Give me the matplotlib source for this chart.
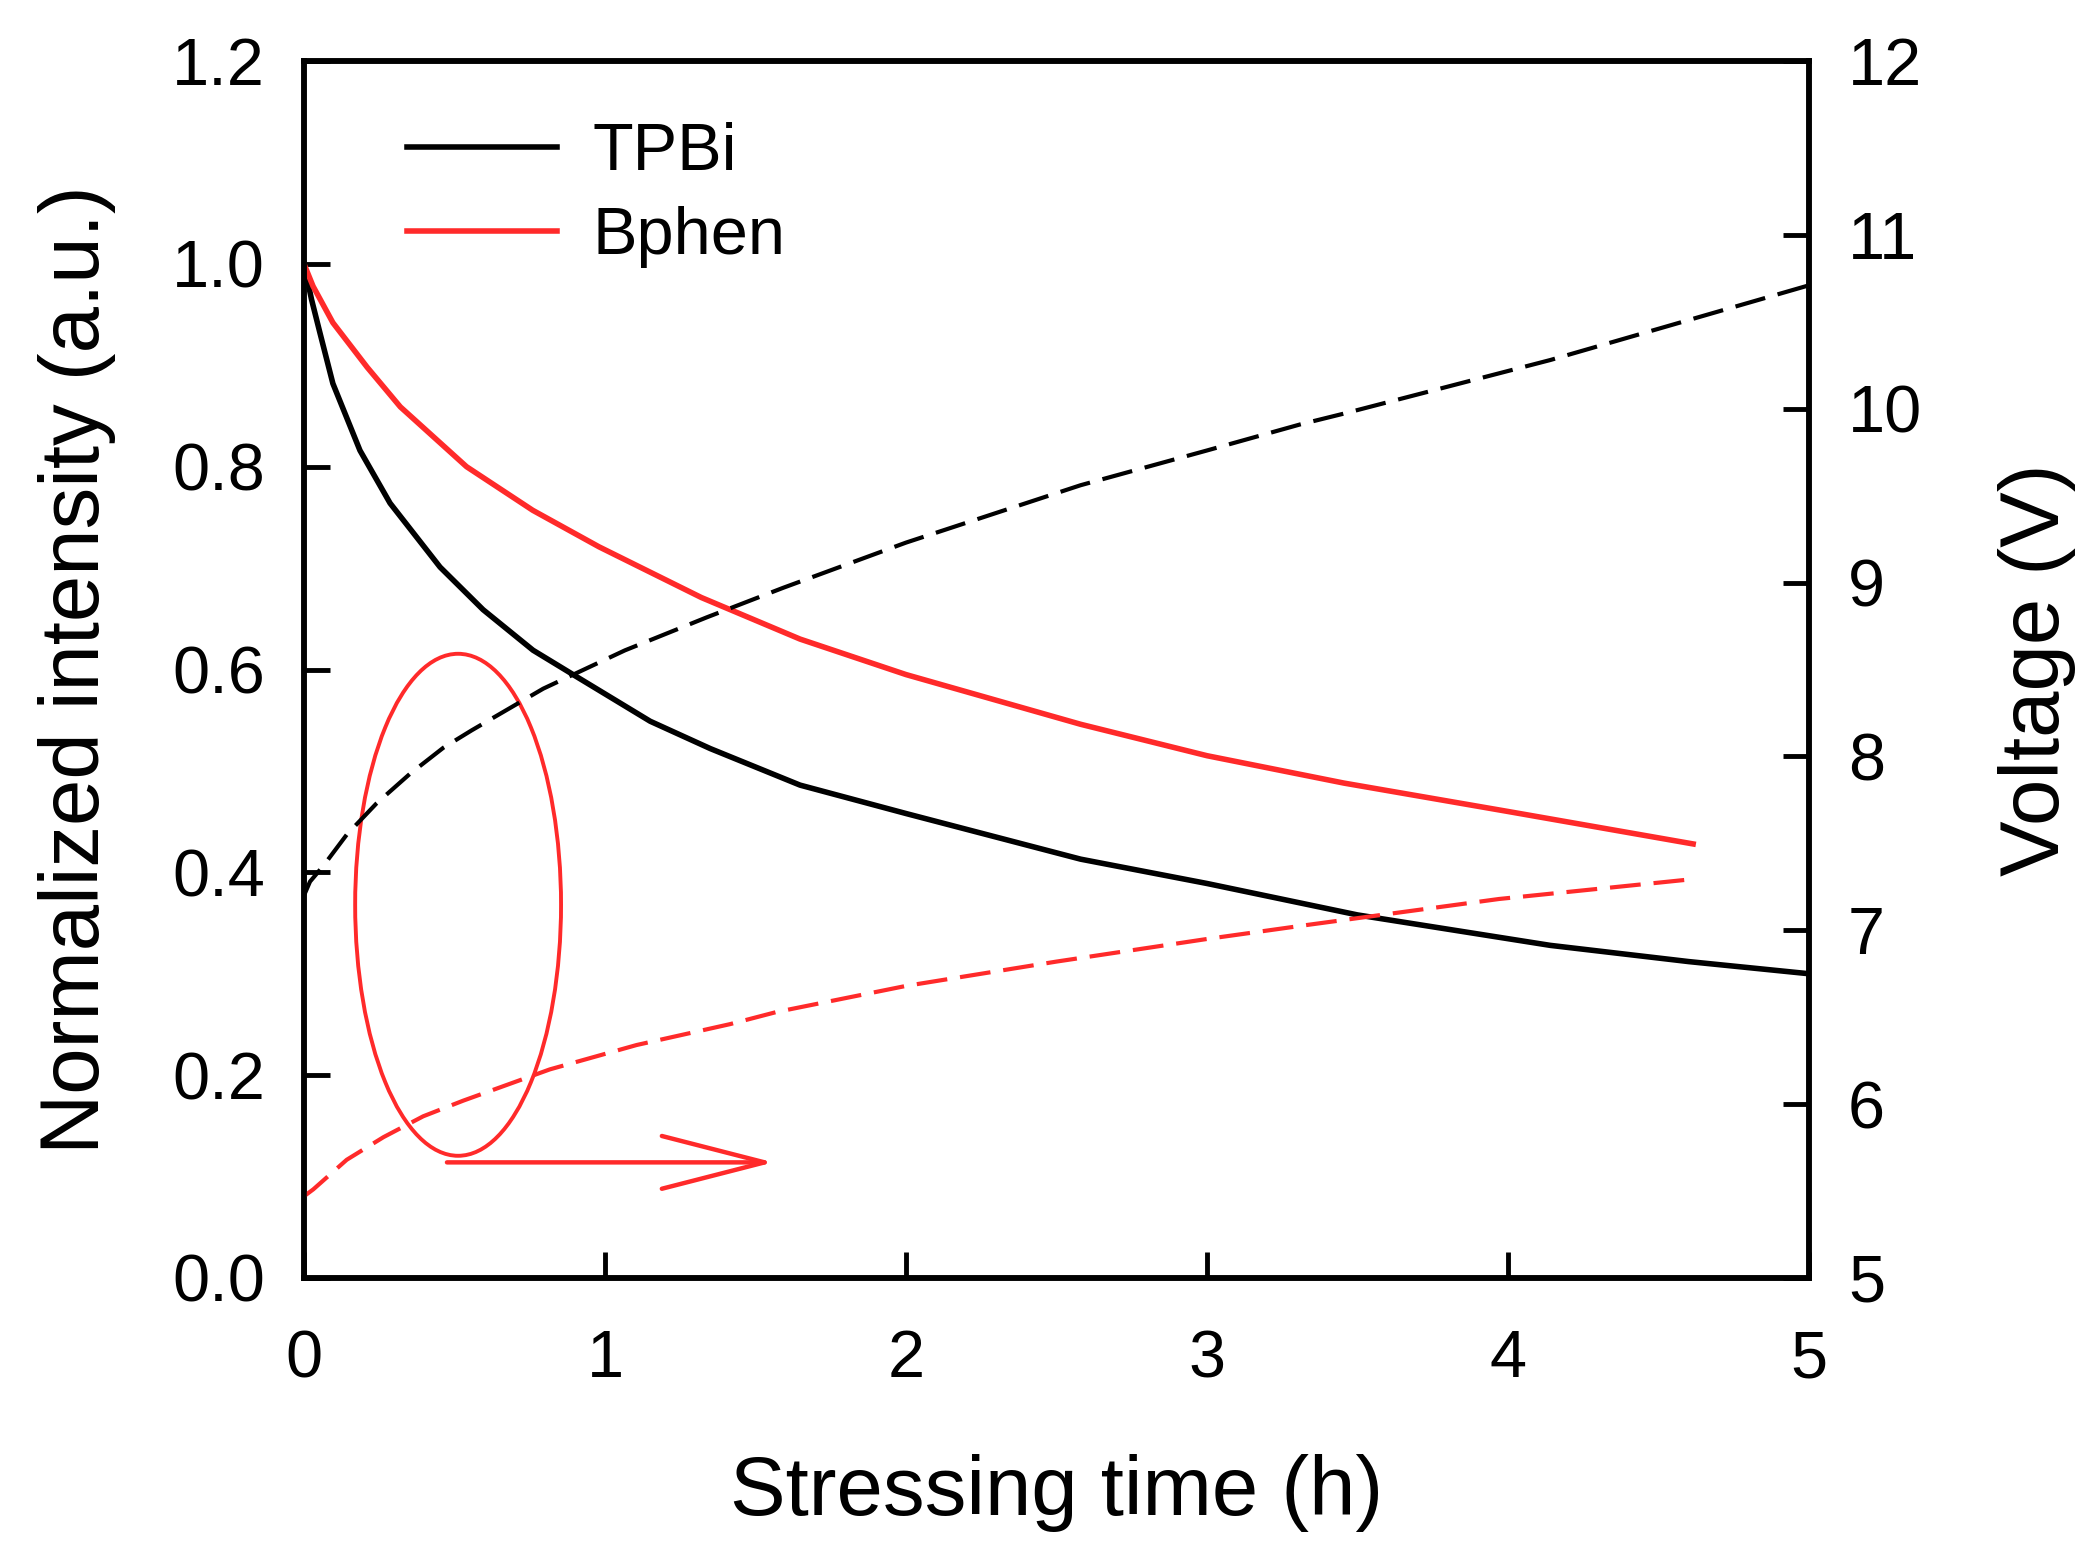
import matplotlib
matplotlib.use("Agg")
import matplotlib.pyplot as plt
from matplotlib.patches import Ellipse

plt.rcParams['font.family'] = ['Liberation Sans', 'DejaVu Sans']

# normalized EL intensity (left axis)
tpbi_t = [0, 0.025, 0.053, 0.096, 0.186, 0.286, 0.452, 0.595, 0.761, 0.894, 1.15, 1.35,
          1.648, 2.0, 2.58, 3.0, 3.5, 4.14, 4.6, 5.0]
tpbi_int = [1.0, 0.965, 0.932, 0.882, 0.816, 0.764, 0.701, 0.659, 0.619, 0.595, 0.549, 0.522,
            0.486, 0.458, 0.413, 0.389, 0.358, 0.328, 0.312, 0.30]

bphen_t = [0, 0.03, 0.096, 0.21, 0.32, 0.54, 0.76, 0.98, 1.32, 1.648, 2.0, 2.58,
           3.0, 3.455, 4.0, 4.615]
bphen_int = [1.0, 0.978, 0.942, 0.898, 0.859, 0.80, 0.757, 0.721, 0.671, 0.630, 0.595, 0.546,
             0.515, 0.488, 0.46, 0.428]

# driving voltage (right axis)
tpbi_vt = [0, 0.02, 0.064, 0.142, 0.241, 0.352, 0.463, 0.557, 0.795, 1.066, 1.338,
           1.592, 2.0, 2.58, 3.0, 3.31, 3.45, 4.14, 4.5, 5.0]
tpbi_v = [7.2, 7.28, 7.37, 7.55, 7.73, 7.90, 8.05, 8.15, 8.39, 8.61, 8.80,
          8.97, 9.23, 9.56, 9.76, 9.91, 9.97, 10.28, 10.46, 10.71]

bphen_vt = [0, 0.031, 0.142, 0.264, 0.396, 0.529, 0.673, 0.817, 0.961, 1.105, 1.26,
            1.415, 1.57, 2.0, 2.5, 3.0, 3.33, 3.97, 4.59]
bphen_v = [5.47, 5.51, 5.68, 5.81, 5.93, 6.02, 6.11, 6.20, 6.27, 6.34, 6.40,
           6.46, 6.53, 6.68, 6.82, 6.95, 7.03, 7.18, 7.29]

red = '#ff2a2a'

fig = plt.figure(figsize=(20.95, 15.57), dpi=100)
ax = fig.add_axes([0.1451, 0.1792, 0.7184, 0.7816])
ax2 = ax.twinx()

l1, = ax.plot(tpbi_t, tpbi_int, color='black', lw=4.0, label='TPBi')
l2, = ax.plot(bphen_t, bphen_int, color=red, lw=4.0, label='Bphen')
ax2.plot(tpbi_vt, tpbi_v, color='black', lw=3.0, dashes=(7.4, 3.1))
ax2.plot(bphen_vt, bphen_v, color=red, lw=3.0, dashes=(7.4, 3.1))

ax.set_xlim(0, 5)
ax.set_ylim(0, 1.2)
ax2.set_ylim(5, 12)
ax.set_xticks([0, 1, 2, 3, 4, 5])
ax.set_yticks([0, 0.2, 0.4, 0.6, 0.8, 1.0, 1.2])
ax.set_yticklabels(['0.0', '0.2', '0.4', '0.6', '0.8', '1.0', '1.2'])
ax2.set_yticks([5, 6, 7, 8, 9, 10, 11, 12])

for a in (ax, ax2):
    for s in a.spines.values():
        s.set_linewidth(4)
ax.tick_params(axis='both', direction='in', length=18.7, width=3.5, labelsize=48)
ax.tick_params(axis='x', pad=37)
ax.tick_params(axis='y', pad=28)
ax2.tick_params(axis='y', direction='in', length=18.7, width=3.5, labelsize=48, pad=28)

ax.set_xlabel('Stressing time (h)', fontsize=60)
ax.set_ylabel('Normalized intensity (a.u.)', fontsize=60)
ax2.set_ylabel('Voltage (V)', fontsize=60)
ax.xaxis.set_label_coords(0.5, -0.145)
ax.yaxis.set_label_coords(-0.1247, 0.5)
ax2.yaxis.set_label_coords(1.1257, 0.5)

# ellipse + arrow pointing to the right axis
ax.add_patch(Ellipse((0.512, 0.368), 0.684, 0.495, fill=False, edgecolor=red, lw=2.8))
ax.annotate('', xy=(1.56, 0.114), xytext=(0.475, 0.114),
            arrowprops=dict(arrowstyle='->,head_length=74,head_width=19',
                            mutation_scale=1, color=red, lw=3.2, shrinkA=0, shrinkB=0))

leg = ax.legend(handles=[l1, l2], loc='upper left', bbox_to_anchor=(0.0684, 0.950),
                frameon=False, fontsize=48, handlelength=2.25, handletextpad=0.53,
                labelspacing=0.33, borderpad=0, borderaxespad=0)

fig.savefig('out.png', dpi=100, facecolor='white')
